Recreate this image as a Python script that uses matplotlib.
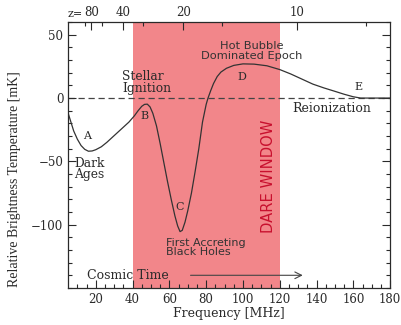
import matplotlib
matplotlib.use("Agg")
import matplotlib.pyplot as plt
import numpy as np

# Data
freq = [5, 6.5, 8, 10, 12, 14, 16, 18, 20, 23, 26, 29, 32, 35, 38, 41, 43, 45, 46.5, 48, 49.5,
        51, 53, 55, 57, 59, 61, 63, 64.5, 65.8, 67, 68.5, 70, 72, 74, 76, 78, 80, 81, 82.5, 84,
        86, 88, 91, 95, 100, 106, 113, 120, 126, 132, 138, 144, 150, 155, 160, 164, 170, 180]
temp = [-12, -19, -26, -32.5, -37.5, -40.5, -42, -41.8, -40.8, -38.5, -35, -31, -27, -23, -19, -14, -10, -6.5, -5, -4.8, -7,
        -12, -22, -36, -51, -66, -80, -93, -101, -105.5, -104.5, -98, -89, -75, -58, -40, -19, -5, 0, 6, 11.5,
        17, 20.5, 23.5, 25.8, 27, 26.8, 25.5, 22.5, 19, 15, 11, 8, 5.3, 3, 1, 0, 0, 0]

z_major = [80, 40, 20, 10]
z_minor = [100, 60, 30, 15, 7.5]
window = (40, 120)

x_ticks = [20, 40, 60, 80, 100, 120, 140, 160, 180]
y_ticks = [50, 0, -50, -100]
y_ticklabels = ["50", "0", "\u221250", "\u2212100"]

ink = "#2a2a2a"
serif = ["DejaVu Serif"]
sans = ["DejaVu Sans"]

fig = plt.figure(figsize=(4.01, 3.25), dpi=100)
ax = fig.add_axes([0.170, 0.114, 0.803, 0.818])

ax.axvspan(window[0], window[1], color="#F2868A", lw=0, zorder=0)
ax.axhline(0, color="#444444", lw=0.9, ls=(0, (5, 3)), zorder=1)
ax.plot(freq, temp, color="#333333", lw=0.9, zorder=2)

ax.set_xlim(5, 180)
ax.set_ylim(-150, 60)
ax.set_xticks(x_ticks)
ax.set_xticks(np.arange(10, 181, 5), minor=True)
ax.set_yticks(y_ticks)
ax.set_yticklabels(y_ticklabels)
ax.set_yticks(np.arange(-150, 61, 10), minor=True)
ax.tick_params(which="both", direction="in", top=False, right=True, colors=ink, labelsize=8.5, width=0.8)
ax.tick_params(which="major", length=6)
ax.tick_params(which="minor", length=3)
for lab in ax.get_xticklabels() + ax.get_yticklabels():
    lab.set_family(serif)
for sp in ax.spines.values():
    sp.set_color(ink)
    sp.set_linewidth(0.9)

ax.set_xlabel("Frequency [MHz]", family=serif, fontsize=9, color=ink, labelpad=1)
ax.set_ylabel("Relative Brightness Temperature [mK]", family=["Liberation Serif"], fontsize=10, color=ink)
ax.yaxis.set_label_coords(-0.145, 0.41)

# top redshift axis
top = ax.twiny()
top.set_xlim(ax.get_xlim())
top.set_xticks([1420.4 / (1 + z) for z in z_major])
top.set_xticklabels([str(z) for z in z_major], family=serif, fontsize=8.5, color=ink)
top.set_xticks([1420.4 / (1 + z) for z in z_minor], minor=True)
top.tick_params(which="both", direction="in", colors=ink, width=0.8, pad=2)
top.tick_params(which="major", length=6)
top.tick_params(which="minor", length=3)
for sp in top.spines.values():
    sp.set_visible(False)
top.text(1420.4 / 81 - 4.5, 1.012, "z=", transform=top.get_xaxis_transform(), ha="right", va="bottom",
         family=serif, fontsize=8, color=ink)

# annotations
kw = dict(family=serif, color=ink)
ax.text(15.5, -30, "A", ha="center", va="center", fontsize=8, **kw)
ax.text(46.6, -14, "B", ha="center", va="center", fontsize=8, **kw)
ax.text(65.6, -86, "C", ha="center", va="center", fontsize=8, **kw)
ax.text(99.5, 16.5, "D", ha="center", va="center", fontsize=8, **kw)
ax.text(162.5, 8.7, "E", ha="center", va="center", fontsize=8, **kw)
ax.text(34.3, 12.6, "Stellar\nIgnition", ha="left", va="center", linespacing=0.9, fontsize=8.8, **kw)
ax.text(8.3, -56, "Dark\nAges", ha="left", va="center", linespacing=0.85, fontsize=8.8, **kw)
ax.text(148, -8, "Reionization", ha="center", va="center", fontsize=9, **kw)
ax.text(15, -140, "Cosmic Time", ha="left", va="center", fontsize=9, **kw)
ax.annotate("", xy=(134, -140), xytext=(70, -140),
            arrowprops=dict(arrowstyle="->", color="#444444", lw=0.8, mutation_scale=12))
ax.text(105, 37, "Hot Bubble\nDominated Epoch", ha="center", va="center", family=sans, fontsize=8.2,
        color="#333333", linespacing=0.95)
ax.text(58, -118, "First Accreting\nBlack Holes", ha="left", va="center", family=sans, fontsize=8,
        color="#333333", linespacing=0.95)
ax.text(113.7, -62, "DARE WINDOW", rotation=90, ha="center", va="center", family=sans, fontsize=10.6,
        color="#C8102E")

fig.savefig("out.png", dpi=100)
